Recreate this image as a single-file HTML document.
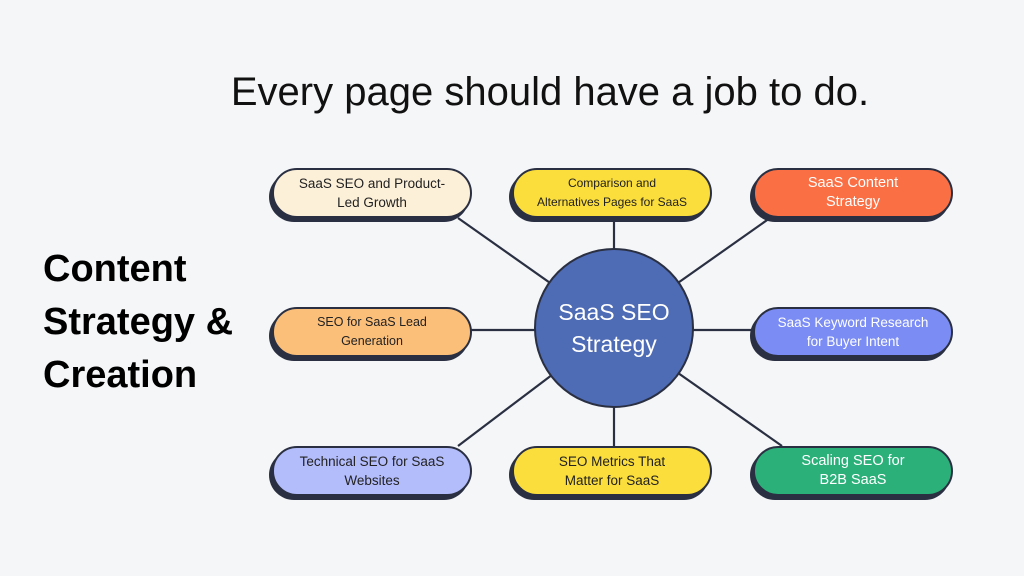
<!DOCTYPE html>
<html><head><style>
body{margin:0;width:1024px;height:576px;background:#f5f6f8;position:relative;overflow:hidden;font-family:"Liberation Sans",sans-serif;}
.t{position:absolute;left:0;width:1100px;top:70px;text-align:center;font-size:40px;color:#111;}
.h{position:absolute;left:43px;top:243px;font-size:38px;font-weight:bold;line-height:53px;color:#000;}
.b{position:absolute;width:196px;height:46px;border:2px solid #2a3042;border-radius:25px;box-shadow:-3px 4px 0 #2a3042;display:flex;align-items:center;justify-content:center;text-align:center;font-size:13.5px;line-height:19px;color:#222;}
.c{position:absolute;left:534px;top:248px;width:156px;height:156px;border-radius:50%;background:#4e6bb5;border:2px solid #2a3042;color:#fff;font-size:23px;line-height:32px;display:flex;align-items:center;justify-content:center;text-align:center;}
</style></head><body>
<div class="t">Every page should have a job to do.</div>
<div class="h">Content<br>Strategy &amp;<br>Creation</div>
<svg width="1024" height="576" style="position:absolute;left:0;top:0">
<g stroke="#2a3042" stroke-width="2.2">
<line x1="458" y1="218" x2="614" y2="328"/>
<line x1="614" y1="218" x2="614" y2="328"/>
<line x1="770" y1="218" x2="614" y2="328"/>
<line x1="470" y1="330" x2="760" y2="330"/>
<line x1="458" y1="446" x2="614" y2="328"/>
<line x1="614" y1="446" x2="614" y2="328"/>
<line x1="782" y1="446" x2="614" y2="328"/>
</g></svg>
<div class="b" style="left:272px;top:168px;background:#fdf0d9">SaaS SEO and Product-<br>Led Growth</div>
<div class="b" style="left:512px;top:168px;background:#fbde3c;font-size:12px">Comparison and<br>Alternatives Pages for SaaS</div>
<div class="b" style="left:753px;top:168px;background:#fb6f45;color:#fff;font-size:14.5px">SaaS Content<br>Strategy</div>
<div class="b" style="left:272px;top:307px;background:#fbbf7a;font-size:12.5px">SEO for SaaS Lead<br>Generation</div>
<div class="b" style="left:753px;top:307px;background:#7b8cf5;color:#fff">SaaS Keyword Research<br>for Buyer Intent</div>
<div class="b" style="left:272px;top:446px;background:#b4bdfb">Technical SEO for SaaS<br>Websites</div>
<div class="b" style="left:512px;top:446px;background:#fbde3c">SEO Metrics That<br>Matter for SaaS</div>
<div class="b" style="left:753px;top:446px;background:#2bb07a;color:#fff;font-size:14.5px">Scaling SEO for<br>B2B SaaS</div>
<div class="c">SaaS SEO<br>Strategy</div>
</body></html>
